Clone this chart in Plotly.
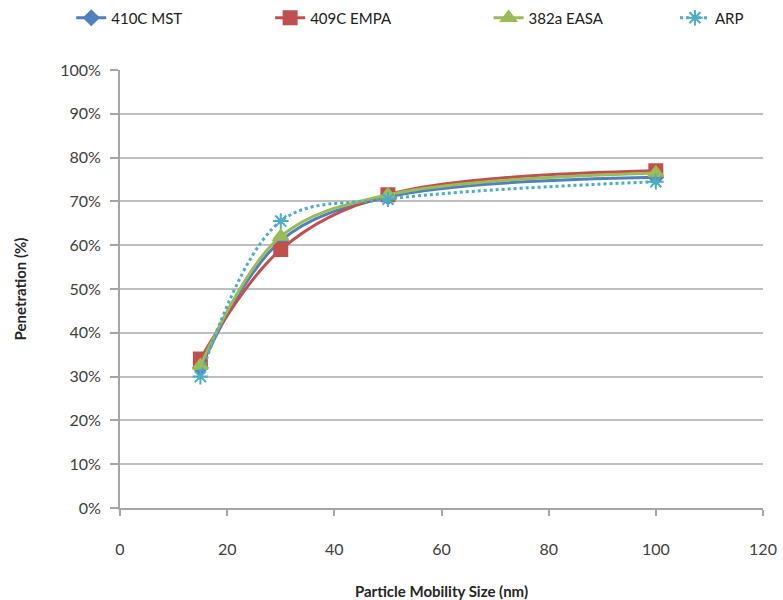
import plotly.graph_objects as go

sizes = [15, 30, 50, 100]
mst = [32, 61, 71, 75.5]
empa = [34, 59, 71.5, 77]
easa = [32.5, 62, 71.5, 76.5]
arp = [30, 65.5, 70.5, 74.5]

names = ["410C MST", "409C EMPA", "382a EASA", "ARP"]
colors = ["#4F81BD", "#C0504D", "#9BBB59", "#4BACC6"]
symbols = ["diamond", "square", "triangle-up", "asterisk-open"]
msizes = [11, 13, 13, 13]
dashes = ["solid", "solid", "solid", "dot"]
series = [mst, empa, easa, arp]
legend_ids = ["legend", "legend2", "legend3", "legend4"]
legend_x = [0.091, 0.345, 0.624, 0.862]

fig = go.Figure()
for name, ys, c, s, ms, d, lg in zip(names, series, colors, symbols, msizes, dashes, legend_ids):
    fig.add_trace(go.Scatter(
        x=sizes, y=ys, name=name, mode="lines+markers", legend=lg,
        line=dict(color=c, width=3, dash=d, shape="spline", smoothing=1),
        marker=dict(symbol=s, size=ms, color=c, line=dict(color=c, width=2)),
    ))

font = "Lato, Open Sans, sans-serif"
legend_common = dict(orientation="h", xref="container", yref="container",
                     y=0.97, yanchor="middle", xanchor="left",
                     font=dict(size=15, color="#202020"), bgcolor="rgba(0,0,0,0)")
fig.update_layout(
    width=783, height=600,
    margin=dict(l=120, r=20, t=70, b=92, autoexpand=False),
    plot_bgcolor="white", paper_bgcolor="white",
    font=dict(family=font, size=16, color="#404040"),
    showlegend=True,
    xaxis=dict(range=[0, 120], dtick=20, tick0=0, showgrid=False, automargin=False,
               showline=True, linecolor="#A6A6A6", linewidth=2,
               ticks="outside", ticklen=6, tickcolor="#A6A6A6", tickwidth=2,
               ticklabelstandoff=20, zeroline=False,
               title=dict(text="<b>Particle Mobility Size (nm)</b>", standoff=30,
                          font=dict(size=15, color="#262626"))),
    yaxis=dict(range=[0, 100], dtick=10, tick0=0, ticksuffix="%", automargin=False,
               showgrid=True, gridcolor="#BFBFBF", gridwidth=2,
               showline=True, linecolor="#A6A6A6", linewidth=2,
               ticks="outside", ticklen=8, tickcolor="#A6A6A6", tickwidth=2,
               ticklabelstandoff=6, zeroline=False,
               title=dict(text="<b>Penetration (%)</b>", standoff=30,
                          font=dict(size=15, color="#262626"))),
)
for lg, lx in zip(legend_ids, legend_x):
    fig.update_layout({lg: dict(legend_common, x=lx)})

fig.write_html("out.html")
